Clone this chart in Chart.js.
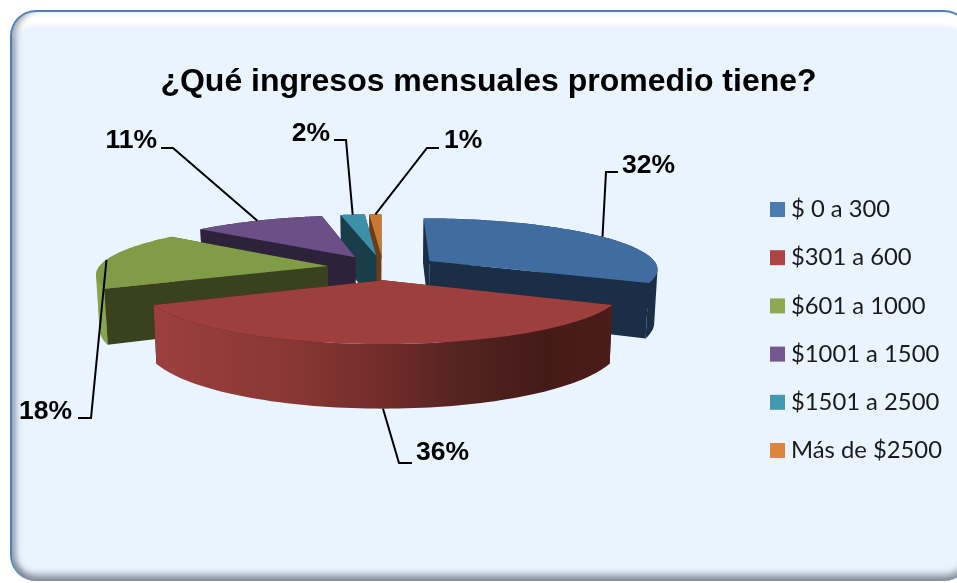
<!DOCTYPE html>
<html lang="es">
<head>
<meta charset="utf-8">
<title>Ingresos mensuales</title>
<script src="https://cdn.jsdelivr.net/npm/chart.js@4/dist/chart.umd.min.js"></script>
<style>
  html, body { margin: 0; background: #fff; overflow: hidden; }
  #wrap { position: relative; width: 957px; height: 583px; }
  #panel {
    position: absolute; left: 10px; top: 10px; width: 960px; height: 571px;
    box-sizing: border-box; border: 2.5px solid #4f81bd; border-bottom: 0; border-radius: 26px;
    background: #e9f4ff;
    box-shadow:
      inset 0 -10px 7px -4px rgba(110,118,128,.8),
      inset 7px 0 6px -3px rgba(110,118,130,.65),
      inset 0 15px 4px -2px #fff;
  }
  canvas { position: absolute; left: 0; top: 0; }
</style>
</head>
<body>
<div id="wrap">
  <div id="panel"></div>
  <canvas id="pie" width="957" height="583"></canvas>
</div>
<script>
const titleText  = '¿Qué ingresos mensuales promedio tiene?';
const categories = ['$ 0 a 300', '$301 a 600', '$601 a 1000', '$1001 a 1500', '$1501 a 2500', 'Más de $2500'];
const shares     = [32, 36, 18, 11, 2, 1];

const topColors  = ['#416c9f', '#9d3f3d', '#809c47', '#6b5088', '#3d90a8', '#c87a35'];
const cutColors  = ['#1b2e47', '#4a1c19', '#39411f', '#2e223b', '#1a3d4a', '#6b3d18'];
const wallColors = ['#1b2e47', null, '#88a44c', '#2e223b', '#1a3d4a', '#6b3d18'];
const swatches   = ['#4a7ab0', '#ab4644', '#8ca94f', '#75578f', '#4299b0', '#dc853d'];

// leader elbow and label anchor for each slice
const labelElbows = [[606, 172], [399, 463], [91, 418], [173, 148], [346, 140], [427, 148]];
const labelEnds   = [[618, 172], [412, 463], [78, 418], [161, 148], [334, 140], [439, 148]];
const labelAnchor = [[622, 166], [416, 453], [72, 412], [157, 141], [330, 134], [444, 141]];
const labelAlign  = ['left', 'left', 'right', 'right', 'right', 'left'];

// tilt of the pie plane
const TILT = 0.2204, PERSP = 0.00063, THICK = 53;

function project(arc, u, v, h) {
  const s = 1 / (1 - PERSP * v);
  return {
    x: arc.x + u * s * (1 - 0.012 * h),
    y: arc.y + TILT * v * s + THICK * s * h,
  };
}

// point on a slice; angles come from the arc element, canvas convention
function slicePoint(arc, r, angle, h) {
  const mid = (arc.startAngle + arc.endAngle) / 2;
  const off = arc.options.offset;
  const u = off * Math.cos(mid) + r * Math.cos(angle);
  const v = off * Math.sin(mid) + r * Math.sin(angle);
  return { p: project(arc, u, v, h), v };
}

function rimPoints(arc, h) {
  const pts = [];
  const n = 80;
  for (let i = 0; i <= n; i++) {
    const a = arc.startAngle + (arc.endAngle - arc.startAngle) * i / n;
    pts.push(slicePoint(arc, arc.outerRadius, a, h).p);
  }
  return pts;
}

function tracePoly(ctx, pts) {
  pts.forEach((p, i) => i ? ctx.lineTo(p.x, p.y) : ctx.moveTo(p.x, p.y));
  ctx.closePath();
}

function fillPoly(ctx, pts, fill) {
  ctx.beginPath();
  tracePoly(ctx, pts);
  ctx.fillStyle = fill;
  ctx.fill();
}

function signedArea(pts) {
  return pts.reduce((sum, p, i) => {
    const q = pts[(i + 1) % pts.length];
    return sum + p.x * q.y - q.x * p.y;
  }, 0);
}

function redWall(ctx) {
  const g = ctx.createLinearGradient(150, 0, 615, 0);
  g.addColorStop(0,    '#9c403e');
  g.addColorStop(0.3,  '#893735');
  g.addColorStop(0.5,  '#722c2a');
  g.addColorStop(0.68, '#522321');
  g.addColorStop(0.85, '#441a17');
  g.addColorStop(1,    '#4b1d1a');
  return g;
}

// the outer wall is one path of strips, all wound the same way so that
// the part folding back at the silhouette stays filled
function fillWall(ctx, arc, fill) {
  const upper = rimPoints(arc, 0), lower = rimPoints(arc, 1);
  ctx.beginPath();
  for (let k = 0; k < upper.length - 1; k++) {
    const quad = [upper[k], upper[k + 1], lower[k + 1], lower[k]];
    tracePoly(ctx, signedArea(quad) < 0 ? quad.reverse() : quad);
  }
  ctx.fillStyle = fill;
  ctx.fill();
}

function drawSlice(ctx, arc, i) {
  const R = arc.outerRadius;
  const faces = [];
  [arc.startAngle, arc.endAngle].forEach(a => {
    const apexTop = slicePoint(arc, 0, a, 0), rimTop = slicePoint(arc, R, a, 0);
    const pts = [apexTop.p, rimTop.p, slicePoint(arc, R, a, 1).p, slicePoint(arc, 0, a, 1).p];
    faces.push({
      depth: (apexTop.v + rimTop.v) / 2,
      paint: () => fillPoly(ctx, pts, cutColors[i]),
    });
  });
  faces.push({
    depth: slicePoint(arc, R, (arc.startAngle + arc.endAngle) / 2, 0).v,
    paint: () => fillWall(ctx, arc, wallColors[i] || redWall(ctx)),
  });
  faces.sort((a, b) => a.depth - b.depth).forEach(f => f.paint());
  fillPoly(ctx, [slicePoint(arc, 0, arc.startAngle, 0).p].concat(rimPoints(arc, 0)), topColors[i]);
}

const pie3d = {
  id: 'pie3d',
  beforeDatasetDraw(chart, args) {
    const ctx = chart.ctx;
    const arcs = args.meta.data;
    // far slices first so nearer ones cover them
    [5, 4, 3, 2, 0, 1].forEach(i => drawSlice(ctx, arcs[i], i));
    return false;
  },
  afterDraw(chart) {
    const ctx = chart.ctx;
    const arcs = chart.getDatasetMeta(0).data;
    ctx.save();
    ctx.textBaseline = 'middle';

    ctx.fillStyle = '#000';
    ctx.font = 'bold 32px "Liberation Sans"';
    ctx.textAlign = 'center';
    ctx.fillText(titleText, 488.5, 82);

    // leaders run from the middle of each rim
    ctx.strokeStyle = '#000';
    ctx.lineWidth = 2;
    ctx.font = 'bold 26.5px "Liberation Sans"';
    arcs.forEach((arc, i) => {
      const mid = (arc.startAngle + arc.endAngle) / 2;
      const h = i === 1 ? 1 : 0;
      const from = slicePoint(arc, arc.outerRadius, mid, h).p;
      ctx.beginPath();
      ctx.moveTo(from.x, from.y);
      ctx.lineTo(labelElbows[i][0], labelElbows[i][1]);
      ctx.lineTo(labelEnds[i][0], labelEnds[i][1]);
      ctx.stroke();
      ctx.textAlign = labelAlign[i];
      ctx.fillText(shares[i] + '%', labelAnchor[i][0], labelAnchor[i][1]);
    });

    // legend column
    ctx.textAlign = 'left';
    ctx.font = '23.8px Lato';
    categories.forEach((name, i) => {
      const y = 209.5 + i * 48.2;
      ctx.fillStyle = swatches[i];
      ctx.fillRect(770, y - 7.5, 15, 15);
      ctx.fillStyle = '#1a1a1a';
      ctx.fillText(name, 791, y);
    });
    ctx.restore();
  },
};

new Chart(document.getElementById('pie'), {
  type: 'pie',
  data: {
    labels: categories,
    datasets: [{ data: shares, backgroundColor: topColors, borderWidth: 0, offset: 56 }],
  },
  options: {
    responsive: false,
    animation: false,
    radius: 229,
    layout: { padding: { left: 0, top: 0, right: 191, bottom: 48 } },
    plugins: {
      legend: { display: false },
      title: { display: false },
      tooltip: { enabled: false },
    },
  },
  plugins: [pie3d],
});
</script>
</body>
</html>
